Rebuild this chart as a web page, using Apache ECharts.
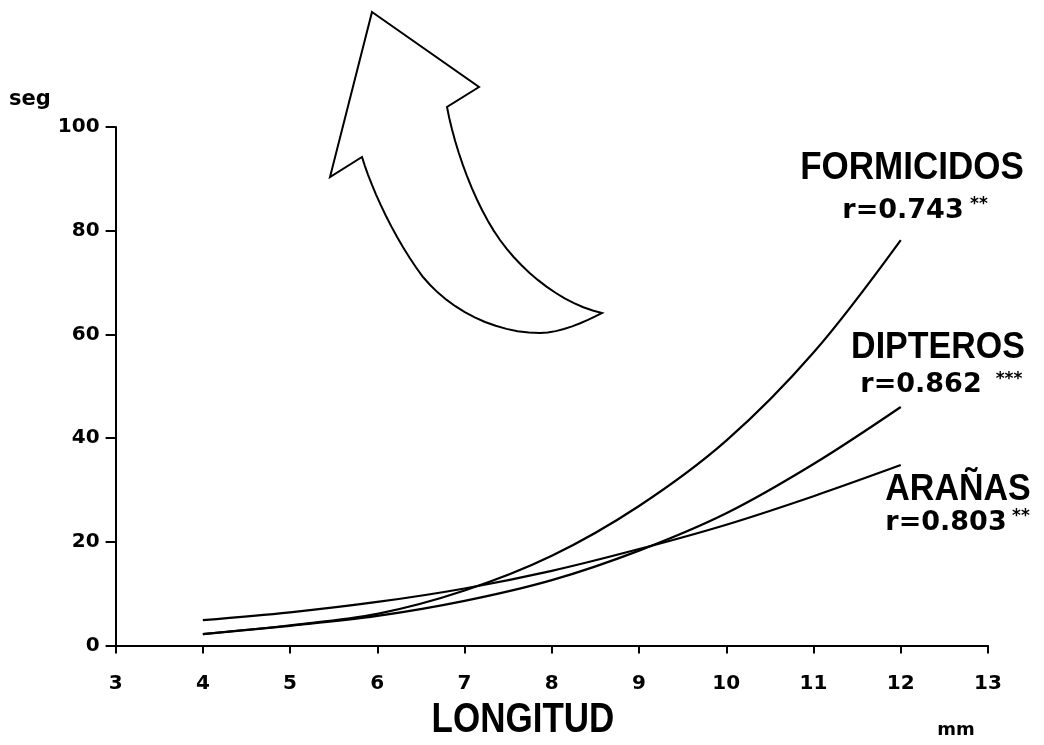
<!DOCTYPE html>
<html>
<head>
<meta charset="utf-8">
<script src="https://cdn.jsdelivr.net/npm/echarts@6/dist/echarts.min.js"></script>
<style>html,body{margin:0;padding:0;background:#fff}#c{width:1044px;height:745px}</style>
</head>
<body>
<div id="c"></div>
<script>
const xs = [4, 5, 6, 7, 8, 9, 10, 11, 12];
const formicidos = [2.2, 3.9, 6.1, 10.6, 17.3, 26.9, 39.5, 56.5, 78.2];
const dipteros = [2.2, 3.8, 5.7, 8.6, 12.6, 18.3, 25.5, 35.0, 46.0];
const aranas = [4.9, 6.4, 8.4, 11.0, 14.4, 18.6, 23.3, 28.8, 34.8];
const xTicks = [3, 4, 5, 6, 7, 8, 9, 10, 11, 12, 13];
const yTicks = [0, 20, 40, 60, 80, 100];

const pairs = ys => xs.map((x, i) => [x, ys[i]]);
const lineSeries = (name, ys) => ({
  name, type: 'line', data: pairs(ys), smooth: 0.35, showSymbol: false, symbol: 'none',
  lineStyle: { color: '#000', width: 2.2 }, silent: true, animation: false
});

// decorative curved arrow outline (built from cubic bezier pieces)
function bez(p0, p1, p2, p3, n) {
  const out = [];
  for (let i = 1; i <= n; i++) {
    const t = i / n, u = 1 - t;
    out.push([
      u*u*u*p0[0] + 3*u*u*t*p1[0] + 3*u*t*t*p2[0] + t*t*t*p3[0],
      u*u*u*p0[1] + 3*u*u*t*p1[1] + 3*u*t*t*p2[1] + t*t*t*p3[1]
    ]);
  }
  return out;
}
const arrowPts = [[372, 12], [479, 87], [447, 107]]
  .concat(bez([447, 107], [455, 150], [475, 205], [500, 240], 12))
  .concat(bez([500, 240], [525, 275], [565, 305], [602, 313], 12))
  .concat(bez([602, 313], [585, 322], [560, 333], [540, 333], 8))
  .concat(bez([540, 333], [495, 333], [450, 310], [423, 277], 12))
  .concat(bez([423, 277], [395, 240], [372, 190], [362, 157], 12))
  .concat([[330, 177]]);

const tickFont = { color: '#000', fontFamily: 'DejaVu Sans', fontWeight: 'bold', fontSize: 20 };
const txt = (x, y, text, font, sy) => ({
  type: 'text', x, y, silent: true, scaleY: sy || 1,
  style: { text, fill: '#000', font, textAlign: 'center', textVerticalAlign: 'middle' }
});
const NAME = 'bold 34px "Liberation Sans"';
const RVAL = 'bold 27px "DejaVu Sans"';
const STAR = 'bold 17px "DejaVu Sans"';
const chart = echarts.init(document.getElementById('c'), null, { renderer: 'canvas' });
chart.setOption({
  backgroundColor: '#fff',
  animation: false,
  grid: { left: 115.6, right: 56, top: 127, bottom: 99.5 },
  xAxis: {
    type: 'value', min: xTicks[0], max: xTicks[xTicks.length - 1], interval: 1,
    axisLine: { lineStyle: { color: '#000', width: 2 } },
    axisTick: { length: 8, lineStyle: { color: '#000', width: 2 } },
    splitLine: { show: false },
    axisLabel: Object.assign({ margin: 28 }, tickFont)
  },
  yAxis: {
    type: 'value', min: yTicks[0], max: yTicks[yTicks.length - 1], interval: 20,
    axisLine: { show: true, lineStyle: { color: '#000', width: 2 } },
    axisTick: { show: true, length: 10, lineStyle: { color: '#000', width: 2 } },
    splitLine: { show: false },
    axisLabel: Object.assign({ margin: 16 }, tickFont)
  },
  series: [
    lineSeries('FORMICIDOS', formicidos),
    lineSeries('DIPTEROS', dipteros),
    lineSeries('ARAÑAS', aranas)
  ],
  graphic: [
    { type: 'polygon', silent: true, shape: { points: arrowPts },
      style: { fill: '#fff', stroke: '#000', lineWidth: 2, lineJoin: 'miter' } },
    txt(30, 100, 'seg', 'bold 21px "DejaVu Sans"'),
    txt(523, 720, 'LONGITUD', 'bold 35px "Liberation Sans"', 1.2),
    txt(956, 730, 'mm', 'bold 18px "DejaVu Sans"'),

    txt(912, 168, 'FORMICIDOS', 'bold 35px "Liberation Sans"', 1.1),
    txt(903, 211, 'r=0.743', RVAL),
    txt(979, 205, '**', STAR),

    txt(938, 348, 'DIPTEROS', NAME, 1.1),
    txt(921, 385, 'r=0.862', RVAL),
    txt(1009, 380, '***', STAR),

    txt(958, 490, 'ARAÑAS', NAME, 1.1),
    txt(946, 523, 'r=0.803', RVAL),
    txt(1021, 517, '**', STAR)
  ]
});
</script>
</body>
</html>
